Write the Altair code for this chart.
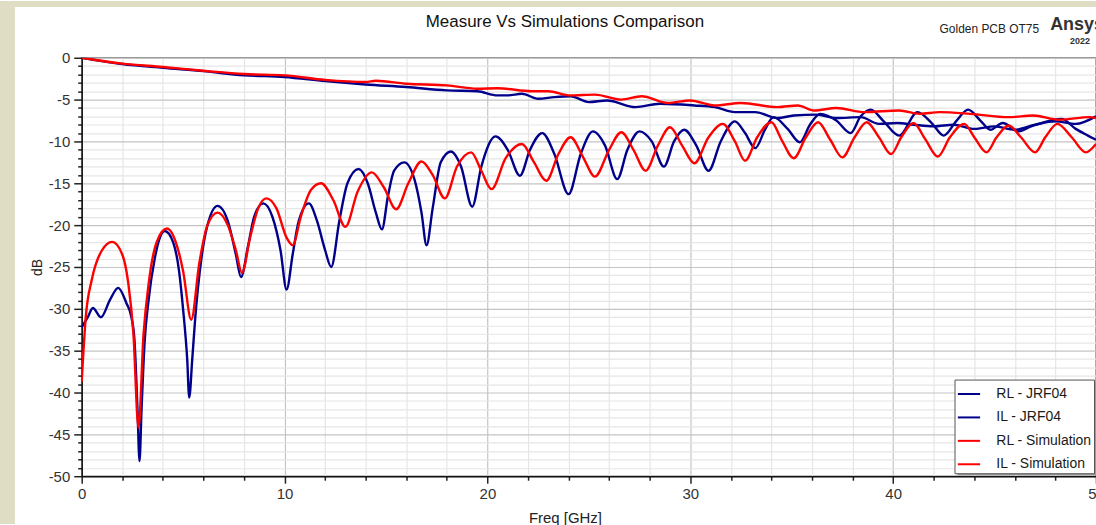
import altair as alt
import pandas as pd

# ---------------- data ----------------
series_names = ["RL - JRF04", "IL - JRF04", "RL - Simulation", "IL - Simulation"]
series_colors = ["#00008b", "#00008b", "#ff0000", "#ff0000"]

rl_meas_f = [0, 0.3, 0.55, 0.95, 1.4, 1.8, 2.2, 2.45, 2.6, 2.75, 2.85, 2.95, 3.1, 3.3, 3.6, 4.1,
             4.5, 4.8, 5.0, 5.2, 5.3, 5.45, 5.6, 5.9, 6.2, 6.7, 7.2, 7.6, 7.85, 8.2, 8.5, 8.95,
             9.4, 9.8, 10.1, 10.4, 10.7, 11.2, 11.6, 12.0, 12.3, 12.7, 13.1, 13.65, 14.1, 14.5,
             14.8, 15.1, 15.4, 15.9, 16.4, 16.75, 17.0, 17.3, 17.7, 18.2, 18.7, 19.25, 19.7,
             20.4, 21.0, 21.6, 22.1, 22.7, 23.3, 24.0, 24.6, 25.2, 25.8, 26.4, 26.9, 27.5, 28.1,
             28.7, 29.2, 29.7, 30.3, 30.9, 31.5, 32.2, 32.7, 33.2, 33.7, 34.1, 34.8, 35.4, 35.9,
             36.4, 37.2, 37.9, 38.4, 38.9, 39.5, 40.3, 41.2, 41.9, 42.5, 43.1, 43.7, 44.3, 44.8,
             45.4, 46.2, 46.8, 47.3, 48.3, 49.0, 49.6, 50.0]
rl_meas_db = [-32.2, -31.0, -29.9, -31.0, -28.9, -27.5, -29.3, -31.0, -33.7, -42.0, -48.2, -42.0,
              -34.0, -28.9, -24.0, -20.7, -22.0, -25.5, -30.1, -36.0, -40.6, -36.0, -31.0, -24.0,
              -20.0, -17.7, -19.5, -23.5, -26.2, -22.5, -19.0, -17.4, -19.0, -23.0, -27.7, -23.5,
              -19.5, -17.4, -19.5, -23.0, -25.0, -19.5, -15.0, -13.3, -15.0, -18.5, -20.5, -16.5,
              -13.5, -12.5, -14.5, -18.5, -22.4, -18.0, -12.5, -11.2, -13.0, -17.8, -13.0, -9.4,
              -11.0, -14.1, -11.0, -9.0, -11.5, -16.3, -11.5, -8.8, -10.5, -14.5, -11.0, -8.8,
              -10.0, -13.0, -10.0, -8.6, -10.5, -13.5, -10.0, -7.6, -9.0, -10.8, -8.5, -7.1,
              -8.5, -10.1, -8.0, -6.7, -7.5, -9.0, -7.0, -6.2, -7.5, -9.3, -6.5, -7.8, -9.3,
              -7.6, -6.2, -7.5, -8.6, -7.8, -8.8, -8.2, -7.8, -7.3, -8.5, -9.3, -9.8]

il_meas_f = [0, 1, 2, 4, 6, 8, 10, 12, 14, 16, 18, 19.5, 20.5, 21.0, 21.7, 22.5, 23.3, 24.1, 25.0,
             25.9, 27.3, 28.5, 30.2, 31.2, 32.2, 33.2, 34.3, 35.1, 36.2, 37.2, 38.4, 39.3, 40.2,
             41, 42, 43, 44, 45, 46, 47, 48, 49, 50]
il_meas_db = [0, -0.4, -0.75, -1.2, -1.6, -2.1, -2.3, -2.8, -3.2, -3.5, -3.9, -4.0, -4.5, -4.5,
              -4.3, -4.9, -4.7, -4.6, -5.3, -5.1, -5.9, -5.5, -5.7, -5.9, -6.5, -6.5, -7.2, -6.9,
              -6.8, -7.2, -7.1, -7.9, -7.8, -8.0, -8.2, -8.0, -8.5, -8.2, -8.6, -8.0, -7.6,
              -7.9, -7.0]

rl_sim_f = [0, 0.2, 0.5, 1.0, 1.5, 2.0, 2.3, 2.55, 2.8, 3.05, 3.3, 3.7, 4.2, 4.7, 5.0, 5.4, 5.8,
            6.2, 6.7, 7.2, 7.6, 7.9, 8.3, 8.7, 9.1, 9.6, 10.1, 10.4, 10.8, 11.3, 11.8, 12.4, 13.0,
            13.6, 14.3, 14.9, 15.5, 16.1, 16.75, 17.3, 17.9, 18.5, 19.2, 19.7, 20.2, 20.9, 21.7,
            22.3, 22.9, 23.5, 24.1, 24.7, 25.3, 26.0, 26.6, 27.2, 27.8, 28.4, 29.0, 29.6, 30.2,
            30.9, 31.6, 32.2, 32.7, 33.3, 34.0, 34.5, 35.1, 35.7, 36.3, 36.9, 37.5, 38.1, 38.7,
            39.3, 39.9, 40.4, 41.0, 41.6, 42.2, 42.8, 43.5, 44.0, 44.6, 45.1, 45.7, 46.3, 47.0,
            47.5, 48.1, 48.8, 49.5, 50.0]
rl_sim_db = [-38.7, -31.0, -26.5, -23.0, -22.0, -23.5, -27.0, -33.0, -44.2, -33.0, -27.0, -22.0,
             -20.4, -22.5, -25.5, -31.3, -24.5, -20.0, -18.5, -20.0, -23.0, -25.7, -21.5, -18.0,
             -16.8, -18.0, -21.5, -22.4, -19.0, -15.8, -15.0, -17.0, -20.2, -16.0, -13.7, -15.5,
             -18.1, -15.0, -12.4, -14.0, -16.8, -13.0, -11.3, -13.5, -15.7, -12.0, -10.3, -12.5,
             -14.7, -11.5, -9.5, -11.8, -14.2, -11.0, -8.9, -11.0, -13.5, -10.5, -8.3, -10.5,
             -12.6, -9.5, -7.9, -10.0, -12.3, -9.5, -7.7, -9.8, -12.0, -9.5, -7.7, -9.8, -11.9,
             -9.5, -7.7, -9.5, -11.5, -9.5, -7.8, -9.8, -11.8, -9.5, -7.9, -9.5, -11.3, -9.5,
             -8.1, -9.5, -11.3, -9.5, -7.9, -9.5, -11.3, -10.3]

il_sim_f = [0, 2, 4, 6, 8, 10, 12, 14, 14.5, 16, 18, 19.5, 20.5, 22.2, 23.0, 24.1, 25.3, 26.6,
            27.6, 28.9, 30.0, 31.2, 32.5, 34.3, 35.3, 36.1, 37.2, 38.6, 40.3, 41.3, 42.3, 43.8,
            45.7, 46.9, 48.2, 49.7, 50.0]
il_sim_db = [0, -0.7, -1.1, -1.55, -1.95, -2.1, -2.65, -2.9, -2.75, -3.1, -3.3, -3.7, -3.65,
             -4.0, -4.0, -4.5, -4.4, -5.0, -4.6, -5.4, -5.1, -5.7, -5.4, -5.9, -5.7, -6.3, -6.0,
             -6.5, -6.3, -6.7, -6.5, -6.7, -7.1, -6.9, -7.4, -7.1, -7.2]

x_ticks = list(range(0, 51, 2))
y_ticks = list(range(-50, 1, 1))

# ---------------- build table ----------------
rows = []
for name, fs, ds in zip(series_names,
                        [rl_meas_f, il_meas_f, rl_sim_f, il_sim_f],
                        [rl_meas_db, il_meas_db, rl_sim_db, il_sim_db]):
    for f, d in zip(fs, ds):
        rows.append({"series": name, "freq": f, "db": d})
df = pd.DataFrame(rows)

FONT = "Liberation Sans"
W, H = 1018, 420

x_axis = alt.Axis(
    values=x_ticks,
    labelExpr="datum.value % 10 === 0 ? '' + datum.value : ''",
    title="Freq [GHz]", titleX=485, titleY=41, titleBaseline="middle", titleAlign="center",
    titleFont=FONT, titleFontSize=15, titleFontWeight="normal", titleColor="#222",
    labelFont=FONT, labelFontSize=15, labelColor="#333", labelPadding=3,
    labelOverlap=False, labelFlush=False, labelBound=False,
    grid=True,
    gridColor={"condition": {"test": "datum.value % 10 === 0", "value": "#c4c4c4"}, "value": "#e6e6e6"},
    gridWidth=1.2,
    tickSize={"condition": {"test": "datum.value % 10 === 0", "value": 7}, "value": 4},
    tickColor="#222", tickWidth=1.5,
    domainColor="#111", domainWidth=1.5,
)
y_axis = alt.Axis(
    values=y_ticks,
    labelExpr="datum.value % 5 === 0 ? '' + datum.value : ''",
    title="dB", titleX=-44, titleY=210, titleAngle=270, titleBaseline="middle", titleAlign="center",
    titleFont=FONT, titleFontSize=14, titleFontWeight="normal", titleColor="#222",
    labelFont=FONT, labelFontSize=15, labelColor="#333", labelPadding=4,
    labelOverlap=False, labelFlush=False, labelBound=False,
    grid=True,
    gridColor={"condition": {"test": "datum.value % 5 === 0", "value": "#c4c4c4"}, "value": "#e6e6e6"},
    gridWidth=1.2,
    tickSize={"condition": {"test": "datum.value % 5 === 0", "value": 8}, "value": 4},
    tickColor="#222", tickWidth=1.5,
    domainColor="#111", domainWidth=1.5,
)

lines = alt.Chart(df).mark_line(interpolate="monotone", strokeWidth=2.4, clip=True).encode(
    x=alt.X("freq:Q", scale=alt.Scale(domain=[0, 50], nice=False, zero=False), axis=x_axis),
    y=alt.Y("db:Q", scale=alt.Scale(domain=[-50, 0], nice=False), axis=y_axis),
    color=alt.Color(
        "series:N",
        sort=series_names,
        scale=alt.Scale(domain=series_names, range=series_colors),
        legend=alt.Legend(
            title=None, orient="none", legendX=876, legendY=323,
            symbolType="stroke", symbolSize=500, symbolStrokeWidth=2,
            labelFont=FONT, labelFontSize=14, labelColor="#1a1a1a", labelOffset=15,
            fillColor="white", strokeColor="#555", padding=2, rowPadding=3.5,
        ),
    ),
)

one = pd.DataFrame({"k": [0]})


def strip(x1, x2, y1, y2, color="#dfdec5"):
    return alt.Chart(one).mark_rect(color=color).encode(
        x=alt.value(x1), x2=alt.value(x2), y=alt.value(y1), y2=alt.value(y2))


def label(text, x, y, size, weight="normal", color="#111", align="left"):
    return alt.Chart(pd.DataFrame({"t": [text]})).mark_text(
        font=FONT, fontSize=size, fontWeight=weight, color=color, align=align,
        baseline="alphabetic").encode(text="t:N", x=alt.value(x), y=alt.value(y))


chart = alt.layer(
    strip(-82, 1100, -57, -51),
    strip(-82, -67, -57, 468),
    lines,
    strip(879, 1100, 326, 419, color="#9a9a9a"),   # legend shadow
    label("Measure Vs Simulations Comparison", 485, -31, 17, color="#111", align="center"),
    label("Golden PCB OT75", 861, -25, 12, color="#222"),
    label("Ansys", 972, -28, 18, weight="bold", color="#333"),
    label("2022", 992, -14, 9, weight="bold", color="#333"),
).properties(
    width=W, height=H,
    autosize=alt.AutoSizeParams(type="none"),
    padding={"left": 82, "top": 57, "right": 0, "bottom": 48},
    background="white",
).configure_view(stroke="#8c8c8c", strokeWidth=1.5)

chart.save("out.html", embed_options={"renderer": "svg", "actions": False})
